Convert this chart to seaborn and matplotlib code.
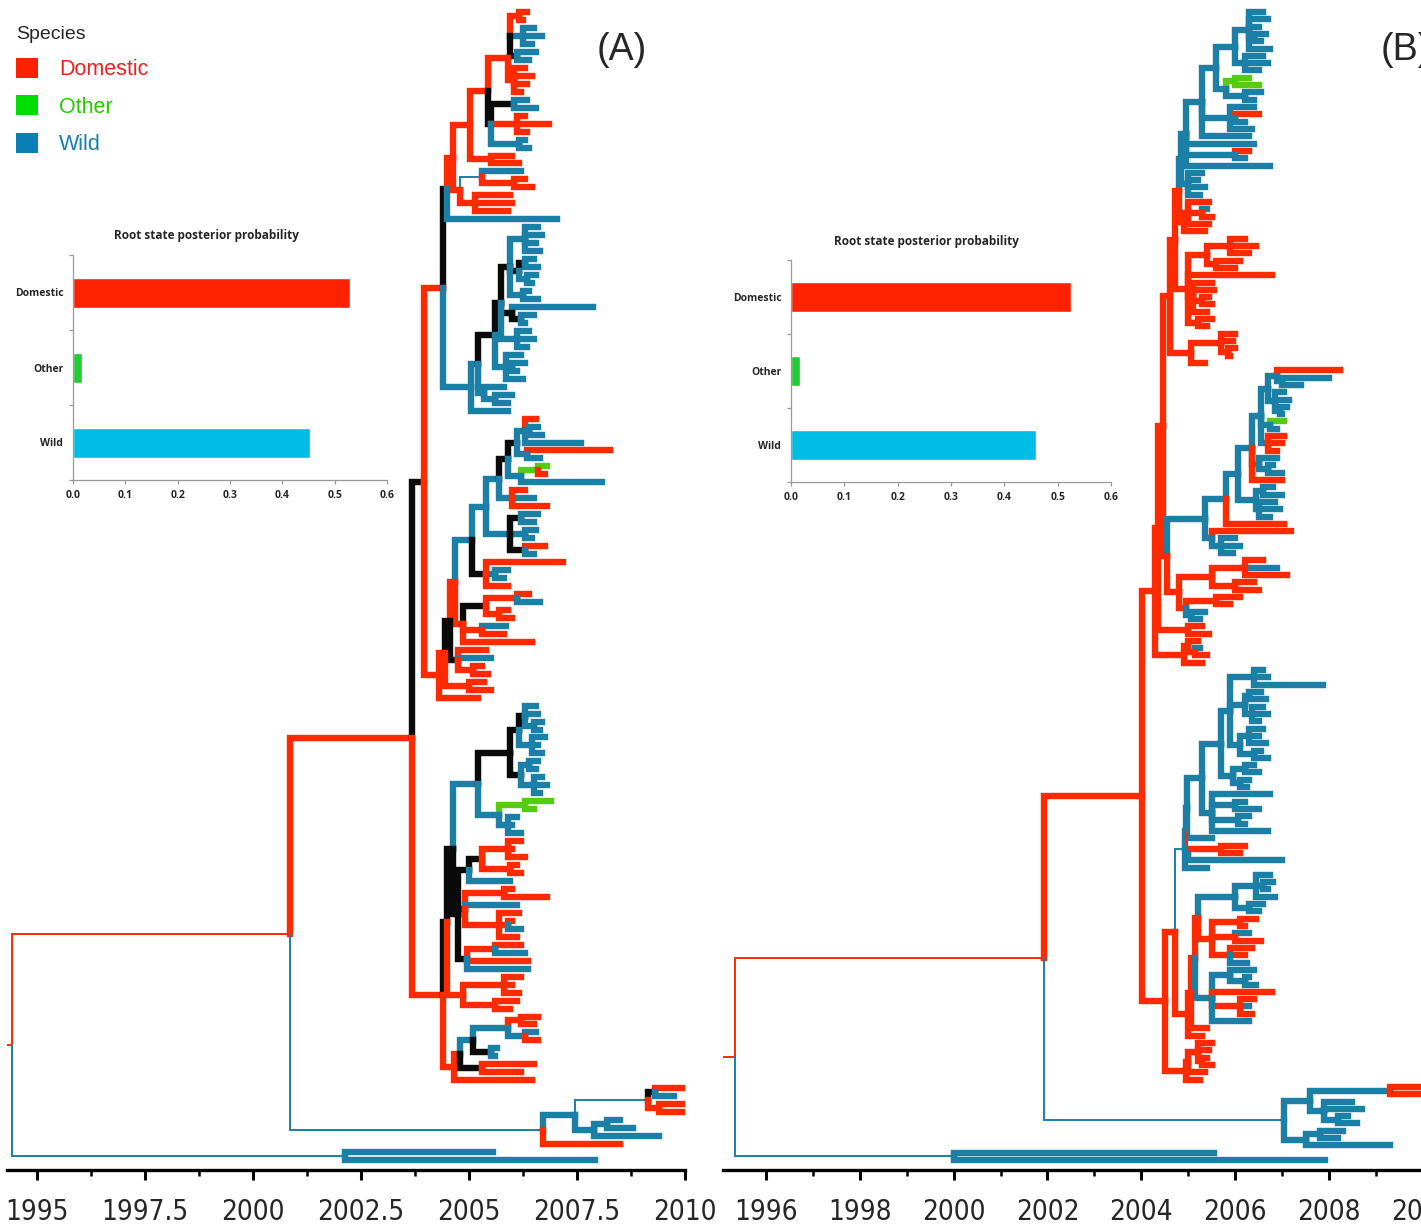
import matplotlib
matplotlib.use("Agg")
import matplotlib.pyplot as plt
import seaborn as sns
import pandas as pd
from matplotlib.collections import LineCollection
from matplotlib.patches import Patch
from matplotlib import font_manager as fm

# ============================ DATA ============================
STATES = ["Domestic", "Other", "Wild"]
ROOT_PROB_A = [0.530, 0.018, 0.453]
ROOT_PROB_B = [0.525, 0.017, 0.460]

TICKS_A = [1995, 1997.5, 2000, 2002.5, 2005, 2007.5, 2010]
TICK_LABELS_A = ["1995", "1997.5", "2000", "2002.5", "2005", "2007.5", "2010"]
MINOR_A = [1996.25, 1998.75, 2001.25, 2003.75, 2006.25, 2008.75]
TICKS_B = [1996, 1998, 2000, 2002, 2004, 2006, 2008, 2010]
TICK_LABELS_B = ["1996", "1998", "2000", "2002", "2004", "2006", "2008", "2010"]
MINOR_B = [1997, 1999, 2001, 2003, 2005, 2007, 2009, 2011]

# Trees: (children)Sxx  where S = state of the branch leading to the node
# D domestic, W wild, O other, B unresolved (black); lower case = thin branch
# xx = node date as offset from year 2000
A_C1_V = "((D6.35,D6.25)D6.15,(W6.5,W6.7,W6.45)W6.25,(W6.55,W6.4)B6.1)w5.95"
A_C1_T = "(" + A_C1_V + ",(D6.3,D6.45,D6.35,D6.2)D6.05)D5.9"
A_C1_U = "((W6.35,W6.55)B6.05,(D6.3,D6.85,D6.35)D6.1,(W6.3,W6.4)W6.15)B5.5"
A_C1_Q = "((" + A_C1_T + "," + A_C1_U + ")D5.44,(D6.0,D6.15)D5.5)D5.02"
A_C1_R = "((W6.2,(D6.3,D6.45)D6.05)w5.3,(D5.95,D6.0,D5.9)D5.15)D4.8"
A_C1 = "((" + A_C1_Q + "," + A_C1_R + ")D4.63,W7.04)B4.5"

A_C2_C = "((W6.6,W6.7,W6.55,W6.65)W6.3,((W6.5,W6.6)B6.3,(W6.55,W6.45)W6.35)B6.15,(W6.4,W6.6)W6.25)B5.95"
A_C2_B = "(" + A_C2_C + ",(W7.87,(W6.5,W6.3)B6.2)B6.0,(W6.4,W6.5,W6.35)W6.1)B5.75"
A_C2_A = "(" + A_C2_B + ",(W6.2,(W6.3,W6.1)W6.0,W6.25)W5.85)B5.6"
A_C2 = "((" + A_C2_A + ",(W5.8,(W6.0,W5.9)W5.6)W5.35)W5.2,W5.9)W5.05"

A_C3_TOP = "((D6.55,(W6.6,W6.7)B6.4,W7.6)W6.3,(D8.27,W6.65)W6.35)B6.1"
A_C3_2 = "(" + A_C3_TOP + ",((O6.8,D6.75)O6.6,W8.08)W6.2)B5.9"
A_C3_3 = "(" + A_C3_2 + ",(D6.3,W6.5,D6.8)W6.0)W5.7"
A_C3_4 = "(" + A_C3_3 + ",((W6.6,W6.5)B6.2,(W6.55,W6.45)W6.3,(D6.75,W6.5)B6.3)W5.95)W5.4"
A_C3_5 = "(" + A_C3_4 + ",(D7.18,(W5.9,W5.8)W5.6,D5.9)B5.4)W5.07"
A_C3_RED = "(((D6.4,W6.65)D6.1,(D5.9,D6.0)D5.7)B5.4,(W5.85,D5.8)D5.3,D6.46)D4.85"
A_C3_LOW1 = "(D5.4,W5.5,(D5.3,D5.45)D5.1)B4.75"
A_C3_LOW2 = "(D5.35,D5.5)D5.0"
A_C3_LOW3 = "D5.2"
A_C3 = ("((((" + A_C3_5 + "," + A_C3_RED + ")D4.68," + A_C3_LOW1 + ")B4.55,"
        + A_C3_LOW2 + ")D4.45," + A_C3_LOW3 + ")D4.3")

A_C4_BLUE = ("((((W6.55,W6.6,(W6.7,W6.65)W6.5)B6.3,(W6.75,W6.6,W6.7)W6.45)B6.15,"
             "((W6.6,W6.55)W6.4,(W6.7,W6.8,W6.65)W6.5)B6.2)B5.95,"
             "((O6.9,O6.5)O6.3,(W6.1,W6.0,W6.2)W5.9)W5.7)W5.2")
A_C4_MIX = ("((((D6.2,D6.0,D6.3)D5.9,(D6.1,D6.2)D5.95)B5.3,W5.95)B5.0,"
            "((D6.0,D6.8)D5.8,W6.1,(D6.15,(D6.0,W6.2)D5.9,D6.1)D5.7)B4.9,"
            "((D6.2,W6.3)D5.6,D6.37,W6.37)B4.95)B4.75")
A_C4_RED = "((D6.2,D6.0,D6.15)D5.8,(D6.1,D5.95)D5.6)D4.85"
A_C4_LOW = "(((((D6.6,D6.5)D6.2,(W6.55,D6.6)W6.3)W5.9,(W5.65,W5.6)B5.5)W5.1,(D6.5,D6.2)B5.3)D4.8,D6.45)D4.65"
A_C4 = "(((" + A_C4_BLUE + "," + A_C4_MIX + ")B4.62," + A_C4_RED + ")B4.5," + A_C4_LOW + ")D4.4"

A_BOT = "((((D10.0,W9.75)B9.3,(D9.95,D10.0)D9.4)w9.15,((W8.5,W8.8)W8.2,W9.4)W7.9)W7.45,D8.5)w6.71"
A_OUT = "(W5.56,W7.92)w2.13"
A_N3A = "(" + A_C1 + "," + A_C2 + ")D4.4"
A_N3 = "(" + A_N3A + "," + A_C3 + ")B3.95"
A_N2 = "(" + A_N3 + "," + A_C4 + ")D3.68"
A_N1 = "(" + A_N2 + "," + A_BOT + ")d0.86"
A_TREE = "(" + A_N1 + "," + A_OUT + ")d-5.58"
A_ROOT_STUB = 1994.31

B_C1_TOP = "((W6.6,W6.7,W6.5,(W6.65,W6.55)W6.4,W6.75)W6.3,(W6.6,W6.7,W6.5)W6.2)W6.0"
B_C1_2 = "(" + B_C1_TOP + ",((O6.3,O6.5)O6.0,(W6.55,W6.4)W6.2)W5.8)W5.6"
B_C1_3 = "(" + B_C1_2 + ",(W6.4,(D6.5,W6.2)W6.0,W6.35)W5.9,W6.3)W5.3"
B_C1_4 = "(" + B_C1_3 + ",W6.4,(D6.3,W6.2)W6.0,W6.75)W4.95"
B_C1 = "(" + B_C1_4 + ",(W5.3,W5.2,W5.35,W5.25)W5.0)W4.85"

B_C2_A = "((D5.45,(W5.4,D5.5)D5.3,D5.45)D5.0,D5.35)D4.9"
B_C2_C = ("(((D6.2,D6.45,D6.3)D5.9,(D6.1,D6.0)D5.6)D5.4,D6.78,"
          "(D5.5,D5.55,(D5.45,D5.5)D5.3,D5.4)D5.1,(D5.5,D5.4)D5.2)D5.0")
B_C2_D = "((D6.0,D5.95,(D6.0,D5.9)D5.85)D5.7,D5.35)D5.05"

B_C3_A = "((D8.23,(W8.0,W7.4)W7.0)W6.9,(W7.05,W7.15,(W7.1,W7.0)W6.95)W6.85)W6.7"
B_C3_B = "(" + B_C3_A + ",(O7.05,W6.9)W6.75,(D7.05,D7.0,D6.9)W6.7)W6.55"
B_C3_C = "(" + B_C3_B + ",(W6.9,(W6.8,W7.0)W6.7)W6.5,D7.0)W6.35"
B_C3_D = "(" + B_C3_C + ",((W6.8,W7.0)W6.6,(W6.85,W6.95,W6.75)W6.5)W6.45)W6.05"
B_C3_E = "((" + B_C3_D + ",D7.05)W5.8,(D7.2,(W6.0,W6.1,W5.95)W5.7)W5.5)W5.35"
B_C3_RED = "(((D6.6,W6.9,D7.1)D6.2,(D6.4,D6.5)D6.0)D5.5,((D6.1,D5.9)D5.6,(W5.35,W5.25)W5.05)D4.95)D4.8"
B_C3 = "(" + B_C3_E + "," + B_C3_RED + ")D4.55"
B_SMALL1 = "(D5.3,D5.45)D5.0"
B_SMALL2 = "((D5.2,(W5.25,D5.4)D5.15)D5.0,D5.3)D4.9"

B_C4_A1 = ("((W6.6,W6.7,W7.87)W6.4,((W6.55,W6.65)W6.3,(W6.6,W6.7,W6.5)W6.35)W6.2,"
           "((W6.6,W6.5,W6.65)W6.3,(W6.55,W6.7)W6.4)W6.1)W5.9")
B_C4_A2 = "(" + B_C4_A1 + ",((W6.4,W6.5)W6.2,(W6.3,W6.25)W6.1)W5.95)W5.7"
B_C4_A3 = "(" + B_C4_A2 + ",(W6.74,(W6.2,W6.5)W6.0,(W6.3,W6.2)W6.05,W6.7)W5.5)W5.3"
B_C4_A = "(((" + B_C4_A3 + ",W5.5)W4.97,((D6.2,D6.1)D5.7,W7.0)d5.0)W4.95,W5.4)w4.93"
B_C4_BTOP = "((W6.75,(W6.8,W6.7)W6.6,W6.85)W6.45,(W6.6,W6.5)W6.3)W6.0"
B_C4_BMID = "(" + B_C4_BTOP + ",((D6.45,D6.2)D6.1,(W6.3,D6.55)D6.0,(D6.35,D6.2,W6.25)D5.9)D5.5)D5.2"
B_C4_BLOW = "((W6.4,(W6.3,W6.45)W6.2)W5.9,D6.78,(D6.4,W6.3,D6.35)D6.1,W6.3)W5.5"
B_C4_B = "(((" + B_C4_BMID + "," + B_C4_BLOW + ")D5.15,D5.4)D5.05,D5.3)D5.0"
B_C4_C = "(((D5.5,D5.45,(D5.4,D5.5)D5.3)D5.2,D5.35)D5.0,D5.25)D4.95"
B_C4 = "((" + B_C4_A + "," + B_C4_B + ")D4.72," + B_C4_C + ")D4.5"

B_BOT = "(((D10.2,D9.9)W9.3,(W8.5,W8.7,(W8.4,W8.6)W8.2)W7.9)W7.6,((W8.3,W8.2)W7.8,W9.3)W7.5)w7.04"
B_OUT = "(W5.55,W7.92)w0.0"
B_T1 = "(" + B_C1 + "," + B_C2_A + ")D4.8"
B_T2 = "(" + B_T1 + "," + B_C2_C + ")D4.72"
B_TOP = "(" + B_T2 + "," + B_C2_D + ")D4.62"
B_N3A = "(" + B_TOP + "," + B_C3 + ")D4.46"
B_N3X = "(" + B_N3A + "," + B_SMALL1 + ")D4.36"
B_N3 = "(" + B_N3X + "," + B_SMALL2 + ")D4.29"
B_N2 = "(" + B_N3 + "," + B_C4 + ")D4.01"
B_N1 = "(" + B_N2 + "," + B_BOT + ")d1.92"
B_TREE = "(" + B_N1 + "," + B_OUT + ")d-4.66"
B_ROOT_STUB = 1995.08

# ============================ STYLE ============================
TREE_COL = {"D": "#ff2a00", "W": "#1b7fa6", "O": "#55cc11", "B": "#0a0a0a"}
LEG_SQ = {"Domestic": "#ff2200", "Other": "#00dd00", "Wild": "#0c80b6"}
LEG_TXT = {"Domestic": "#ee2222", "Other": "#22cc00", "Wild": "#1580b0"}
BAR_COL = {"Domestic": "#ff2200", "Other": "#22cc33", "Wild": "#00bde6"}
THICK, THIN = 4.6, 1.4

sns.set_style("white")


def pick(fams, default="DejaVu Sans"):
    for f in fams:
        try:
            fm.findfont(fm.FontProperties(family=f), fallback_to_default=False)
            return f
        except Exception:
            pass
    return default


SANS = pick(["Liberation Sans", "Arial"])
BOLD = pick(["Open Sans", "Lato", "Liberation Sans"])
plt.rcParams["font.family"] = [SANS, "DejaVu Sans"]

# narrow font for the time axis labels
NARROW_FP = None
for fam in ["Liberation Sans Narrow", "Arial Narrow"]:
    try:
        NARROW_FP = fm.FontProperties(fname=fm.findfont(fm.FontProperties(family=fam), fallback_to_default=False))
        break
    except Exception:
        pass
if NARROW_FP is None:
    p = fm.findfont(fm.FontProperties(family="DejaVu Sans", stretch="condensed"))
    if "Condensed" in p:
        NARROW_FP = fm.FontProperties(fname=p)
AX_FS = 20 if NARROW_FP is not None else 18

W, H = 1421, 1227
fig = plt.figure(figsize=(W / 100, H / 100), dpi=100)


def parse(s):
    pos = 0

    def node():
        nonlocal pos
        kids = []
        if s[pos] == "(":
            pos += 1
            kids.append(node())
            while s[pos] == ",":
                pos += 1
                kids.append(node())
            assert s[pos] == ")"
            pos += 1
        st = s[pos]
        pos += 1
        j = pos
        while pos < len(s) and (s[pos].isdigit() or s[pos] in ".-"):
            pos += 1
        return {"state": st.upper(), "thin": st.islower(),
                "time": 2000 + float(s[j:pos]), "kids": kids}

    r = node()
    assert pos == len(s)
    return r


def layout(root):
    tips = []

    def walk(n):
        if not n["kids"]:
            n["y"] = len(tips)
            tips.append(n)
        else:
            for c in n["kids"]:
                walk(c)
            n["y"] = 0.5 * (n["kids"][0]["y"] + n["kids"][-1]["y"])

    walk(root)
    return len(tips)


def px_ax(left, top, right, bottom):
    return [left / W, 1 - bottom / H, (right - left) / W, (bottom - top) / H]


def draw_tree(rect, tree, stub, xlim, ticks, labels, minor):
    ax = fig.add_axes(rect)
    root = parse(tree)
    n = layout(root)
    segs, cols, lws = [[(stub, root["y"]), (root["time"], root["y"])]], [TREE_COL["D"]], [THIN]

    def walk(nd):
        for c in nd["kids"]:
            segs.append([(nd["time"], nd["y"]), (nd["time"], c["y"]), (c["time"], c["y"])])
            cols.append(TREE_COL[c["state"]])
            lws.append(THIN if c["thin"] else THICK)
            walk(c)

    walk(root)
    lc = LineCollection(segs, colors=cols, linewidths=lws, capstyle="projecting", joinstyle="miter")
    ax.add_collection(lc)
    top_px, bot_px, ax_h = 12, 1160, 1170
    s = (bot_px - top_px) / (n - 1)
    ax.set_ylim((n - 1) + (ax_h - bot_px) / s, -top_px / s)
    ax.set_xlim(*xlim)
    for sp in ["left", "top", "right"]:
        ax.spines[sp].set_visible(False)
    ax.spines["bottom"].set_linewidth(2.4)
    ax.spines["bottom"].set_color("black")
    ax.set_yticks([])
    ax.set_xticks(ticks)
    ax.set_xticklabels(labels)
    ax.set_xticks(minor, minor=True)
    ax.tick_params(axis="x", which="major", bottom=True, length=7, width=2.2, pad=13,
                   labelsize=AX_FS, color="black", direction="out")
    ax.tick_params(axis="x", which="minor", bottom=True, length=4, width=1.8, color="black", direction="out")
    for t in ax.get_xticklabels():
        if NARROW_FP is not None:
            t.set_fontproperties(NARROW_FP)
            t.set_fontsize(AX_FS)
    ax.patch.set_alpha(0)
    return ax


def draw_inset(rect, probs, title_xy):
    ins = fig.add_axes(rect)
    df = pd.DataFrame({"state": STATES, "prob": probs})
    sns.barplot(data=df, x="prob", y="state", hue="state", palette=BAR_COL, width=0.4,
                saturation=1, legend=False, ax=ins, orient="h")
    ins.set_xlim(0, 0.6)
    ins.set_ylim(2.5, -0.5)
    ins.set_xlabel("")
    ins.set_ylabel("")
    ins.patch.set_alpha(0)
    for sp in ["top", "right"]:
        ins.spines[sp].set_visible(False)
    for sp in ["left", "bottom"]:
        ins.spines[sp].set_color("#9a9a9a")
        ins.spines[sp].set_linewidth(0.9)
    ins.set_xticks([0, 0.1, 0.2, 0.3, 0.4, 0.5, 0.6])
    ins.set_xticklabels(["0.0", "0.1", "0.2", "0.3", "0.4", "0.5", "0.6"])
    ins.set_yticks([-0.5, 0.5, 1.5, 2.5], minor=True)
    ins.tick_params(axis="x", bottom=True, length=3, width=0.9, color="#9a9a9a", pad=4, labelsize=7.5)
    ins.tick_params(axis="y", which="major", left=False, length=0, pad=7, labelsize=7.5)
    ins.tick_params(axis="y", which="minor", left=True, length=3, width=0.9, color="#9a9a9a")
    for t in ins.get_xticklabels() + ins.get_yticklabels():
        t.set_fontfamily(BOLD)
        t.set_fontweight("bold")
    fig.text(title_xy[0] / W, 1 - title_xy[1] / H, "Root state posterior probability",
             ha="center", va="center", fontsize=8.5, fontweight="bold", family=BOLD)
    return ins


# panel A
draw_tree(px_ax(7, 0, 685, 1170), A_TREE, A_ROOT_STUB, (1994.306, 2010.0),
          TICKS_A, TICK_LABELS_A, MINOR_A)
# panel B (cropped on the right like the original figure)
draw_tree(px_ax(723, 0, 1483, 1170), B_TREE, B_ROOT_STUB, (1995.084, 1995.084 + 760 / 46.92),
          TICKS_B, TICK_LABELS_B, MINOR_B)

draw_inset(px_ax(73, 255, 387, 480), ROOT_PROB_A, (206, 236))
draw_inset(px_ax(791, 260, 1111, 482), ROOT_PROB_B, (926, 241))

fig.text(622 / W, 1 - 50 / H, "(A)", ha="center", va="center", fontsize=27, family=SANS)
fig.text(1381 / W, 1 - 50 / H, "(B)", ha="left", va="center", fontsize=27, family=SANS)

handles = [Patch(facecolor=LEG_SQ[s], edgecolor="none") for s in STATES]
leg = fig.legend(handles, STATES, loc="upper left", bbox_to_anchor=(16 / W, 1 - 26 / H),
                 frameon=False, title="Species", alignment="left", fontsize=15.5,
                 title_fontsize=14, handlelength=1.0, handleheight=1.05, handletextpad=1.0,
                 labelspacing=0.7, borderpad=0, borderaxespad=0)
for t, s in zip(leg.get_texts(), STATES):
    t.set_color(LEG_TXT[s])

fig.savefig("out.png", dpi=100)
